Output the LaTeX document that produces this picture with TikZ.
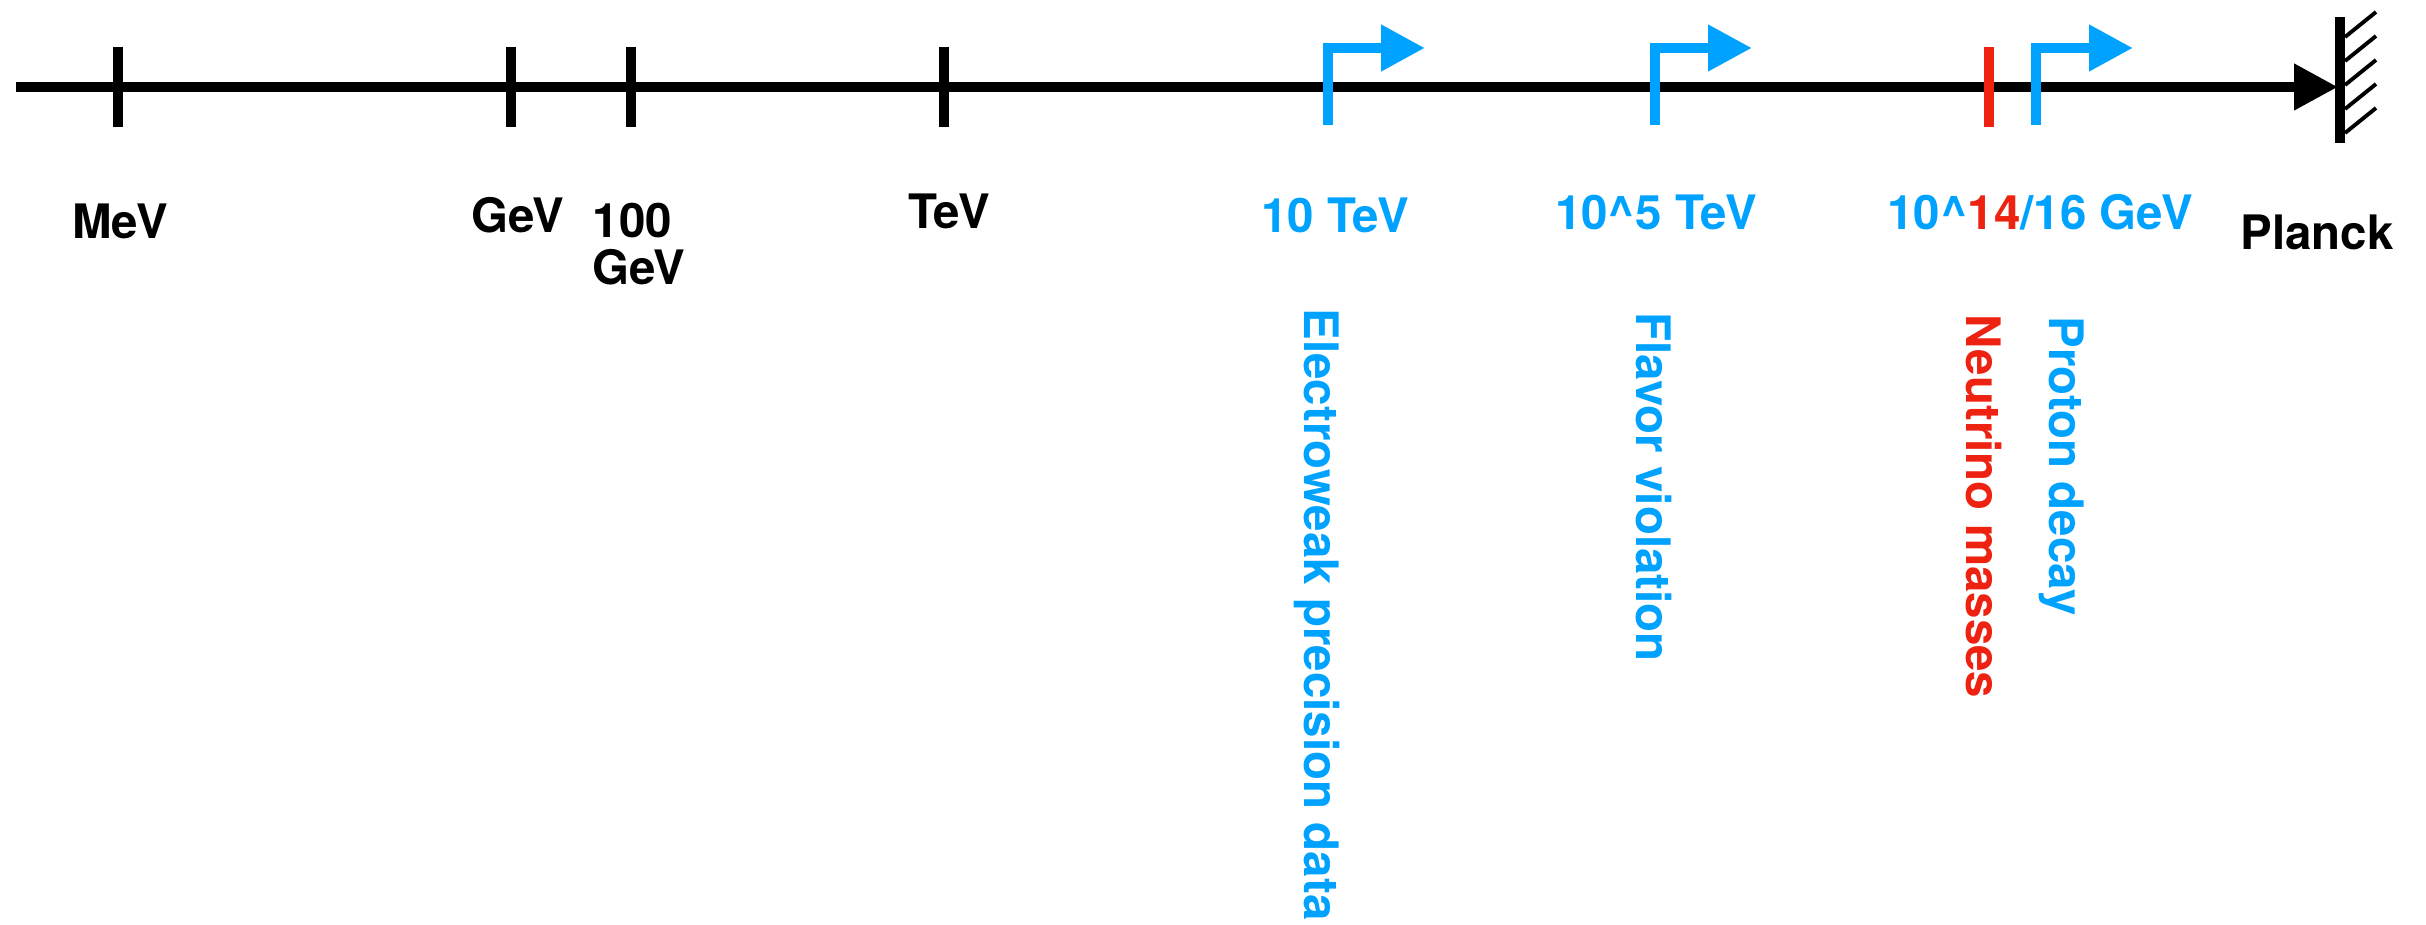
\documentclass[tikz,border=0pt]{standalone}
\usepackage{fontspec}
\setmainfont{TeX Gyre Heros}
\usetikzlibrary{arrows.meta}
\definecolor{skyblue}{RGB}{0,162,255}
\definecolor{nured}{RGB}{238,34,17}
\tikzset{
	thickline/.style={line width=3pt},
	flagline/.style={line width=3pt, draw=skyblue, line join=miter, -{Triangle[length=12.5pt,width=12.5pt]}},
	scalelabel/.style={inner sep=0pt, anchor=base, font=\fontsize{13.5}{13.4}\selectfont\bfseries},
	sidelabel/.style={inner sep=0pt, anchor=base west, rotate=-90, font=\fontsize{13.5}{13.4}\selectfont\bfseries}
}
\begin{document}
\begin{tikzpicture}[x=0.01cm, y=-0.01cm]
\useasboundingbox (0,0) rectangle (2426,925);
% the energy axis
\coordinate (lowend) at (16,87);
\coordinate (wall) at (2338,87);
\draw[thickline, -{Triangle[length=12.5pt,width=12.5pt]}] (lowend) -- (wall);
\draw[thickline] (2340,17) -- (2340,143); %
\foreach \y in {37,61,85,109,133}
{
	\draw[line width=1.1pt] (2345,\y) -- (2376,\y-25); %
}
% black ticks
\foreach \name/\x in {mev/118,gev/511,hgev/631,tev/944}
{
	\coordinate (\name) at (\x,87);
	\draw[thickline] (\x,47) -- (\x,127); %
}
\draw[thickline, nured] (1989,47) -- (1989,127); %
% blue flags
\foreach \name/\x in {ewflag/1328,flavflag/1655,protflag/2036}
{
	\coordinate (\name) at (\x,87);
	\draw[flagline] (\x,125) -- (\x,48) -- ++(97,0); %
}
% scale labels
\node[scalelabel] (mevlabel) at (120,239) {MeV};
\node[scalelabel] (gevlabel) at (518,233) {GeV};
\node[scalelabel, anchor=base west, align=left] (hgevlabel) at (592,285) {100\\GeV};
\node[scalelabel] (tevlabel) at (949,229) {TeV};
\node[scalelabel, skyblue] (ewlabel) at (1335,233) {10 TeV};
\node[scalelabel, skyblue] (flavlabel) at (1656,230) {10\textasciicircum5 TeV};
\node[scalelabel, skyblue] (gutlabel) at (2040,230) {10\textasciicircum\textcolor{nured}{14}/16 GeV};
\node[scalelabel] (plancklabel) at (2317,250) {Planck};
% what is probed
\node[sidelabel, skyblue] (ewtext) at (1304,308) {Electroweak precision data};
\node[sidelabel, skyblue] (flavtext) at (1636,312) {Flavor violation};
\node[sidelabel, nured] (nutext) at (1966,314) {Neutrino masses};
\node[sidelabel, skyblue] (prottext) at (2049,316) {Proton decay};
\end{tikzpicture}
\end{document}
